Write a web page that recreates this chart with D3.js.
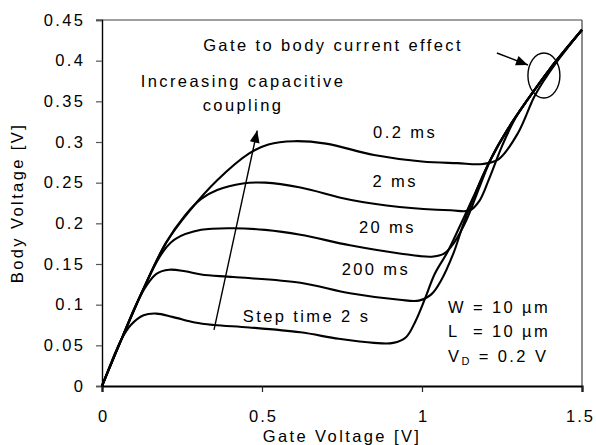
<!DOCTYPE html>
<html>
<head>
<meta charset="utf-8">
<script src="https://cdn.jsdelivr.net/npm/d3@7"></script>
<style>
  body { margin: 0; background: #fff; }
  svg { display: block; }
  text { font-family: "Liberation Sans", Arial, sans-serif; font-size: 16.5px; letter-spacing: 2.4px; fill: #000; }
</style>
</head>
<body>
<div id="chart"></div>
<script>
// ---- data ----
const xTicks = [0, 0.5, 1, 1.5];
const yTicks = [0, 0.05, 0.1, 0.15, 0.2, 0.25, 0.3, 0.35, 0.4, 0.45];

const vg_02ms = [0, 0.056, 0.128, 0.2, 0.275, 0.36, 0.46, 0.52, 0.6, 0.7, 0.85, 1.0, 1.11, 1.19, 1.24, 1.3, 1.35, 1.38, 1.42, 1.5];
const vb_02ms = [0, 0.053, 0.118, 0.176, 0.216, 0.253, 0.286, 0.297, 0.301, 0.298, 0.284, 0.276, 0.274, 0.273, 0.279, 0.311, 0.355, 0.375, 0.398, 0.438];

const vg_2ms = [0, 0.056, 0.128, 0.2, 0.26, 0.31, 0.36, 0.44, 0.51, 0.62, 0.775, 0.93, 1.09, 1.15, 1.18, 1.21, 1.25, 1.29, 1.33, 1.4, 1.5];
const vb_2ms = [0, 0.053, 0.118, 0.176, 0.21, 0.23, 0.241, 0.249, 0.25, 0.244, 0.229, 0.22, 0.216, 0.216, 0.228, 0.255, 0.295, 0.328, 0.352, 0.39, 0.438];

const vg_20ms = [0, 0.056, 0.128, 0.17, 0.2, 0.23, 0.31, 0.41, 0.51, 0.62, 0.775, 0.93, 1.03, 1.07, 1.1, 1.14, 1.18, 1.22, 1.27, 1.33, 1.4, 1.5];
const vb_20ms = [0, 0.053, 0.118, 0.152, 0.17, 0.181, 0.192, 0.194, 0.192, 0.186, 0.173, 0.163, 0.159, 0.163, 0.176, 0.205, 0.245, 0.283, 0.317, 0.352, 0.39, 0.438];

const vg_200ms = [0, 0.056, 0.11, 0.14, 0.17, 0.21, 0.26, 0.31, 0.41, 0.62, 0.775, 0.93, 0.99, 1.03, 1.06, 1.1, 1.13, 1.17, 1.21, 1.27, 1.33, 1.4, 1.5];
const vb_200ms = [0, 0.053, 0.103, 0.124, 0.138, 0.143, 0.141, 0.137, 0.134, 0.127, 0.114, 0.106, 0.105, 0.113, 0.13, 0.165, 0.2, 0.24, 0.275, 0.317, 0.352, 0.39, 0.438];

const vg_2s = [0, 0.03, 0.06, 0.09, 0.13, 0.17, 0.22, 0.29, 0.35, 0.46, 0.62, 0.74, 0.85, 0.91, 0.95, 0.98, 1.01, 1.04, 1.08, 1.12, 1.16, 1.21, 1.27, 1.33, 1.4, 1.5];
const vb_2s = [0, 0.03, 0.057, 0.075, 0.087, 0.089, 0.085, 0.078, 0.075, 0.072, 0.066, 0.058, 0.053, 0.053, 0.06, 0.08, 0.108, 0.138, 0.165, 0.198, 0.232, 0.275, 0.317, 0.352, 0.39, 0.438];

const curveLabels = ["0.2 ms", "2 ms", "20 ms", "200 ms", "Step time 2 s"];
const labelX = [1.047, 0.987, 0.981, 0.963, 0.44];
const labelY = [0.305, 0.245, 0.188, 0.136, 0.079];
const labelAnchor = ["end", "end", "end", "end", "start"];

const curves = [
  [vg_02ms, vb_02ms], [vg_2ms, vb_2ms], [vg_20ms, vb_20ms], [vg_200ms, vb_200ms], [vg_2s, vb_2s]
];

// ---- layout ----
const width = 596, height = 445;
const x = d3.scaleLinear().domain([0, 1.5]).range([102, 582]);
const y = d3.scaleLinear().domain([0, 0.45]).range([386, 20]);

const svg = d3.select("#chart").append("svg")
  .attr("width", width)
  .attr("height", height);

const defs = svg.append("defs");
defs.append("marker")
  .attr("id", "head")
  .attr("markerUnits", "userSpaceOnUse")
  .attr("viewBox", "0 0 12 10")
  .attr("refX", 12).attr("refY", 5)
  .attr("markerWidth", 13).attr("markerHeight", 10)
  .attr("orient", "auto")
  .append("path").attr("d", "M0,0 L12,5 L0,10 Z").attr("fill", "#000");

// frame: grey top and right
svg.append("line").attr("x1", 96).attr("x2", x(1.5)).attr("y1", y(0.45)).attr("y2", y(0.45))
  .attr("stroke", "#808080").attr("stroke-width", 1.3);
svg.append("line").attr("x1", x(1.5)).attr("x2", x(1.5)).attr("y1", y(0.45)).attr("y2", y(0))
  .attr("stroke", "#404040").attr("stroke-width", 1.2);

// y axis
const yAxis = svg.append("g").attr("transform", `translate(${x(0)},0)`)
  .call(d3.axisLeft(y).tickValues(yTicks).tickSize(6).tickPadding(13).tickFormat(d3.format("")));
yAxis.select(".domain").attr("stroke", "#000").attr("stroke-width", 1.4);
yAxis.selectAll(".tick line").attr("stroke", "#555").attr("stroke-width", 1.2);
yAxis.selectAll("text").attr("font-size", null).attr("font-family", null).attr("fill", "#000");

// x axis
const xAxis = svg.append("g").attr("transform", `translate(0,${y(0)})`)
  .call(d3.axisBottom(x).tickValues(xTicks).tickSize(6).tickPadding(18).tickFormat(d3.format("")));
xAxis.select(".domain").attr("stroke", "#000").attr("stroke-width", 2.2);
xAxis.selectAll(".tick line").attr("stroke", "#222").attr("stroke-width", 1.2);
xAxis.selectAll("text").attr("font-size", null).attr("font-family", null).attr("fill", "#000")
  .style("letter-spacing", "2px");
// letter-spacing adds trailing space, nudge labels back to centre
xAxis.selectAll("text").attr("dx", d => d === 1.5 ? "-2px" : "1px");
yAxis.selectAll("text").attr("dx", "2.4px");

// axis titles
svg.append("text")
  .attr("x", (x(0) + x(1.5)) / 2).attr("y", 442)
  .attr("text-anchor", "middle")
  .text("Gate Voltage [V]");
svg.append("text")
  .attr("transform", `translate(23,${(y(0) + y(0.45)) / 2}) rotate(-90)`)
  .attr("text-anchor", "middle")
  .text("Body Voltage [V]");

// curves
const line = d3.line()
  .x(d => x(d[0]))
  .y(d => y(d[1]))
  .curve(d3.curveCatmullRom.alpha(0.5));

svg.append("g").selectAll("path")
  .data(curves)
  .join("path")
  .attr("d", c => line(c[0].map((v, i) => [v, c[1][i]])))
  .attr("fill", "none")
  .attr("stroke", "#000")
  .attr("stroke-width", 2.1)
  .attr("stroke-linejoin", "round");

// curve labels
svg.append("g").selectAll("text")
  .data(curveLabels)
  .join("text")
  .attr("x", (d, i) => x(labelX[i]))
  .attr("y", (d, i) => y(labelY[i]))
  .attr("text-anchor", (d, i) => labelAnchor[i])
  .text(d => d);

// increasing coupling annotation
svg.append("line")
  .attr("x1", x(0.35)).attr("y1", y(0.069))
  .attr("x2", x(0.485)).attr("y2", y(0.314))
  .attr("stroke", "#000").attr("stroke-width", 1.4)
  .attr("marker-end", "url(#head)");
svg.append("text").attr("x", 243).attr("y", 87).attr("text-anchor", "middle").text("Increasing capacitive");
svg.append("text").attr("x", 243).attr("y", 111).attr("text-anchor", "middle").text("coupling");

// gate to body current effect
svg.append("text").attr("x", 463).attr("y", 51).attr("text-anchor", "end").text("Gate to body current effect");
svg.append("line")
  .attr("x1", x(1.234)).attr("y1", y(0.4094))
  .attr("x2", x(1.331)).attr("y2", y(0.3947))
  .attr("stroke", "#000").attr("stroke-width", 1.4)
  .attr("marker-end", "url(#head)");
svg.append("ellipse")
  .attr("cx", x(1.381)).attr("cy", y(0.3818))
  .attr("rx", x(0.05) - x(0)).attr("ry", y(0) - y(0.0277))
  .attr("fill", "none").attr("stroke", "#000").attr("stroke-width", 1.4);

// device parameters
const params = svg.append("g").attr("transform", "translate(448,0)");
params.append("text").attr("y", 313).style("white-space", "pre").text("W = 10 µm");
params.append("text").attr("y", 337).style("white-space", "pre").text("L  = 10 µm");
const vd = params.append("text").attr("y", 362).style("white-space", "pre");
vd.append("tspan").text("V");
vd.append("tspan").attr("font-size", "11px").attr("dy", 3).text("D");
vd.append("tspan").attr("dy", -3).text(" = 0.2 V");
</script>
</body>
</html>
